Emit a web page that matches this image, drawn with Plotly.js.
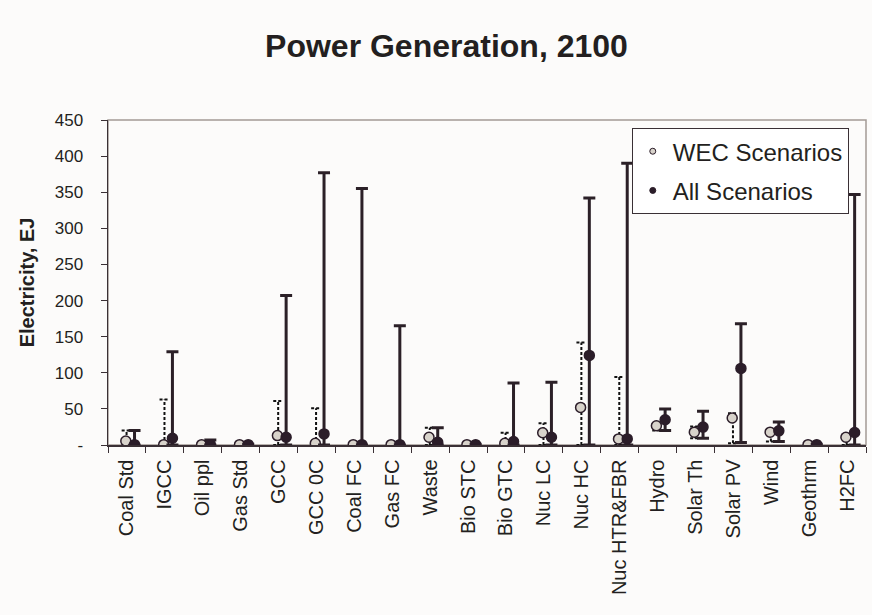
<!DOCTYPE html>
<html>
<head>
<meta charset="utf-8">
<script src="https://cdn.plot.ly/plotly-3.0.1.min.js"></script>
<style>html,body{margin:0;padding:0;background:#fcfbfa;}#chart{width:872px;height:615px;}</style>
</head>
<body>
<div id="chart"></div>
<script>
// ---- data ----
const categories = ["Coal Std","IGCC","Oil ppl","Gas Std","GCC","GCC 0C","Coal FC","Gas FC","Waste","Bio STC","Bio GTC","Nuc LC","Nuc HC","Nuc HTR&FBR","Hydro","Solar Th","Solar PV","Wind","Geothrm","H2FC"];
const wecValue = [5.5, 0.5, 0.5, 0.5, 13, 2.3, 0.5, 0.5, 10.7, 0.5, 2.3, 17, 52, 8.4, 26.6, 17.8, 37.4, 17.8, 0.5, 10.7];
const wecMin   = [0, 0, 0, 0, 0, 0, 0, 0, 0, 0, 0, 0, 0, 0, 20, 9.3, 2.3, 4.7, 0, 0];
const wecMax   = [20, 63, 0.5, 0.5, 61, 51, 0.5, 0.5, 24, 0.5, 17, 30, 142, 94, 30, 25.7, 44, 20, 0.5, 15];
const allValue = [0.5, 9.3, 0.5, 0.5, 10.7, 15.4, 0.5, 0.5, 3.7, 0.5, 4.7, 10.7, 124, 8.4, 35, 24.8, 106, 19.6, 0.5, 17.3];
const allMin   = [0, 0, 0, 0, 0, 0, 0, 0, 0, 0, 0, 0, 0, 0, 20, 9.3, 3.3, 4.7, 0, 0];
const allMax   = [20, 129, 7, 1, 207, 377, 355, 165, 24, 1, 86, 87, 342, 390, 50, 46.7, 168, 31.8, 1, 347];
const yTickVals = [0, 50, 100, 150, 200, 250, 300, 350, 400, 450];
const yTickText = ["-", "50", "100", "150", "200", "250", "300", "350", "400", "450"];

// ---- styling ----
const dark = "#2b1d29";
const textColor = "#231f20";
const wecOffset = -0.03, allOffset = 0.2, dashOffset = -0.01, capHalf = 0.13;

const idx = categories.map((c, i) => i);
const xWec = idx.map(i => i + wecOffset);
const xAll = idx.map(i => i + allOffset);

// dashed range lines for WEC scenarios (vertical + caps)
const dx = [], dy = [];
idx.forEach(i => {
  if (wecMax[i] - wecMin[i] < 1) return;
  const x = i + dashOffset;
  dx.push(x, x, null); dy.push(wecMin[i], wecMax[i], null);
  dx.push(x - capHalf, x + capHalf, null); dy.push(wecMax[i], wecMax[i], null);
  dx.push(x - capHalf, x + capHalf, null); dy.push(wecMin[i], wecMin[i], null);
});

const traces = [
  { x: dx, y: dy, mode: "lines", line: {color: "#111111", width: 2, dash: "3px,2px"},
    showlegend: false, hoverinfo: "skip", type: "scatter" },
  { x: xWec, y: wecValue, mode: "markers", type: "scatter", showlegend: false,
    marker: {size: 10, color: "#d8d3cb", line: {color: dark, width: 1.5}} },
  { x: xAll, y: allValue, mode: "markers", type: "scatter", showlegend: false,
    marker: {size: 10, color: dark, line: {color: dark, width: 1.5}},
    error_y: {type: "data", symmetric: false,
      array: allMax.map((m, i) => m - allValue[i]),
      arrayminus: allValue.map((v, i) => v - allMin[i]),
      color: "#2b2027", thickness: 3, width: 6} },
  // legend entries
  { x: [null], y: [null], mode: "markers", type: "scatter", name: "WEC Scenarios", legendgroup: "a",
    marker: {size: 6, color: "#d8d3cb", line: {color: dark, width: 1}} },
  { x: [null], y: [null], mode: "markers", type: "scatter", name: "All Scenarios", legendgroup: "b",
    marker: {size: 6, color: dark, line: {color: dark, width: 1}} }
];

const layout = {
  width: 872, height: 615,
  margin: {l: 108, r: 6, t: 120, b: 170},
  paper_bgcolor: "#fcfbfa", plot_bgcolor: "#fcfbfa",
  font: {family: "Arial, Liberation Sans, sans-serif", color: textColor, size: 17},
  title: {text: "<b>Power Generation, 2100</b>", font: {size: 32, color: textColor},
    x: 0.512, xanchor: "center", y: 0.925, yanchor: "middle", yref: "container"},
  xaxis: {range: [-0.5, 19.5], tickmode: "array", tickvals: idx, ticktext: categories,
    tickangle: -90, ticks: "", showgrid: false, zeroline: false,
    showline: true, linecolor: "#3a3035", linewidth: 1.5,
    ticklabelstandoff: 5, tickfont: {size: 20, color: textColor},
    minor: {tickmode: "linear", tick0: -0.5, dtick: 1, ticks: "outside", ticklen: 6,
      tickcolor: "#3a3035", tickwidth: 1, showgrid: false}},
  yaxis: {range: [0, 450], tickmode: "array", tickvals: yTickVals, ticktext: yTickText,
    ticks: "outside", ticklen: 6, tickcolor: "#3a3035", showgrid: false, zeroline: false,
    showline: true, linecolor: "#3a3035", linewidth: 1.5, ticklabelstandoff: 14,
    tickfont: {size: 17, color: textColor},
    title: {text: "<b>Electricity, EJ</b>", font: {size: 20, color: textColor}, standoff: 14}},
  legend: {x: 0.691, y: 0.975, xanchor: "left", yanchor: "top", bgcolor: "#ffffff",
    bordercolor: "#3a3035", borderwidth: 1, font: {size: 24, color: textColor},
    tracegroupgap: 5, itemwidth: 30},
  shapes: [{type: "rect", xref: "paper", yref: "paper", x0: 0, x1: 1, y0: 0, y1: 1,
    line: {color: "#a29b95", width: 1.5}, layer: "below"}],
  showlegend: true
};

Plotly.newPlot("chart", traces, layout, {displayModeBar: false, staticPlot: true});
</script>
</body>
</html>
